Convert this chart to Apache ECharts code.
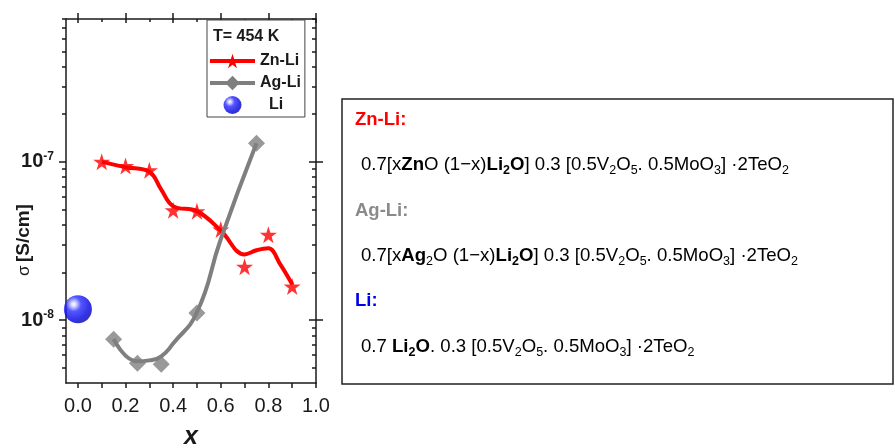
<!DOCTYPE html>
<html>
<head>
<meta charset="utf-8">
<script src="https://cdn.jsdelivr.net/npm/echarts@6/dist/echarts.min.js"></script>
<style>
  html, body { margin: 0; padding: 0; background: #ffffff; }
  #chart { width: 895px; height: 448px; }
</style>
</head>
<body>
<div id="chart"></div>
<script>
// Ionic conductivity at T = 454 K versus composition x
const xLabelValues = [0.0, 0.2, 0.4, 0.6, 0.8, 1.0];
const xTickValues = [0.0, 0.1, 0.2, 0.3, 0.4, 0.5, 0.6, 0.7, 0.8, 0.9, 1.0];
const xInnerMinor = [0.1, 0.3, 0.5, 0.7, 0.9];
const yMajorValues = [1e-8, 1e-7];
const yMinorValues = [5e-9, 6e-9, 7e-9, 8e-9, 9e-9,
  2e-8, 3e-8, 4e-8, 5e-8, 6e-8, 7e-8, 8e-8, 9e-8,
  2e-7, 3e-7, 4e-7, 5e-7, 6e-7, 7e-7, 8e-7];

// Zn-Li: measured points and the fitted curve
const znLiX = [0.1, 0.2, 0.3, 0.4, 0.5, 0.6, 0.7, 0.8, 0.9];
const znLiSigma = [1.0e-7, 9.4e-8, 8.85e-8, 4.94e-8, 4.88e-8, 3.73e-8, 2.17e-8, 3.46e-8, 1.63e-8];
const znLiFitX = [0.1, 0.2, 0.3, 0.35, 0.4, 0.5, 0.6, 0.7, 0.75, 0.8, 0.85, 0.9];
const znLiFit = [1.0e-7, 9.25e-8, 8.65e-8, 6.68e-8, 5.25e-8, 4.88e-8, 3.68e-8, 2.6e-8, 2.76e-8, 2.84e-8, 2.25e-8, 1.68e-8];

// Ag-Li: measured points and the fitted curve
const agLiX = [0.15, 0.25, 0.35, 0.5, 0.75];
const agLiSigma = [7.55e-9, 5.33e-9, 5.25e-9, 1.11e-8, 1.31e-7];
const agLiFitX = [0.15, 0.25, 0.3, 0.35, 0.4, 0.5, 0.6, 0.75];
const agLiFit = [7.6e-9, 5.48e-9, 5.56e-9, 5.9e-9, 7.1e-9, 1.12e-8, 3.24e-8, 1.31e-7];

// Li (x = 0)
const liX = [0.0];
const liSigma = [1.17e-8];

const FONT = '"Liberation Sans", Arial, Helvetica, sans-serif';
const INK = '#1a1a1a';
const RED = '#ff0000';
const GREY = '#7f7f7f';
const STAR = 'path://M50,0 L61.2,34.5 L97.6,34.5 L68.2,55.9 L79.4,90.5 L50,69.1 L20.6,90.5 L31.8,55.9 L2.4,34.5 L38.8,34.5 Z';

const pairs = (xs, ys) => xs.map((x, i) => [x, ys[i]]);

const Y_MIN = 4e-9, Y_MAX = 8e-7;
const X_MIN = -0.05, X_MAX = 1.0;
const LOG_MIN = Math.log10(Y_MIN), LOG_MAX = Math.log10(Y_MAX);
const yMinorExp = yMinorValues.map(Math.log10);
const yMajorExp = yMajorValues.map(Math.log10);

const tickLine = { color: INK, width: 1.5 };

// tick-only axes laid out in decades (log10 of sigma)
function decadeTickAxis(position, values, length, inside) {
  return {
    type: 'value', position: position, min: LOG_MIN, max: LOG_MAX,
    axisLine: { show: false, onZero: false },
    axisTick: { show: true, inside: inside, customValues: values, length: length, lineStyle: tickLine },
    axisLabel: { show: false },
    splitLine: { show: false }
  };
}
function xTickAxis(values, length, inside) {
  return {
    type: 'value', position: 'top', min: X_MIN, max: X_MAX,
    axisLine: { show: false, onZero: false },
    axisTick: { show: true, inside: inside, customValues: values, length: length, lineStyle: tickLine },
    axisLabel: { show: false },
    splitLine: { show: false }
  };
}

const supExp = v => '{b|10}{s|' + Math.round(Math.log10(v)) + '}';

const formulaRich = {
  n: { fontFamily: FONT, fontSize: 18.6, color: INK, lineHeight: 24 },
  b: { fontFamily: FONT, fontSize: 18.6, fontWeight: 'bold', color: INK, lineHeight: 24 },
  s: { fontFamily: FONT, fontSize: 12.5, color: INK, verticalAlign: 'bottom', lineHeight: 12 },
  bs: { fontFamily: FONT, fontSize: 12.5, fontWeight: 'bold', color: INK, verticalAlign: 'bottom', lineHeight: 12 }
};

const chart = echarts.init(document.getElementById('chart'), null, { renderer: 'canvas' });

chart.setOption({
  animation: false,
  backgroundColor: '#ffffff',
  grid: { left: 66, right: 579, top: 19, bottom: 65, containLabel: false, outerBoundsMode: 'none' },
  xAxis: [
    {
      type: 'value', position: 'bottom', min: X_MIN, max: X_MAX,
      axisLine: { show: true, onZero: false, lineStyle: tickLine },
      axisTick: { show: true, customValues: xTickValues, length: 5, lineStyle: tickLine },
      axisLabel: {
        show: true, customValues: xLabelValues, margin: 13,
        formatter: v => v.toFixed(1),
        fontFamily: FONT, fontSize: 20, color: INK
      },
      splitLine: { show: false },
      name: 'x', nameLocation: 'middle', nameGap: 42,
      nameTextStyle: { fontFamily: FONT, fontSize: 25, fontWeight: 'bold', fontStyle: 'italic', color: INK }
    },
    {
      type: 'value', position: 'top', min: X_MIN, max: X_MAX,
      axisLine: { show: true, onZero: false, lineStyle: tickLine },
      axisTick: { show: true, customValues: xLabelValues, length: 6, lineStyle: tickLine },
      axisLabel: { show: false },
      splitLine: { show: false }
    },
    xTickAxis(xLabelValues, 4, true),
    xTickAxis(xInnerMinor, 3, true)
  ],
  yAxis: [
    {
      type: 'log', logBase: 10, position: 'left', min: Y_MIN, max: Y_MAX,
      axisLine: { show: true, onZero: false, lineStyle: tickLine },
      axisTick: { show: false },
      axisLabel: {
        show: true, customValues: yMajorValues, margin: 12,
        formatter: supExp,
        rich: {
          b: { fontFamily: FONT, fontSize: 20, fontWeight: 'bold', color: INK },
          s: { fontFamily: FONT, fontSize: 12, fontWeight: 'bold', color: INK, verticalAlign: 'top', padding: [0, 0, 10, 0] }
        }
      },
      splitLine: { show: false },
      minorTick: { show: false },
      minorSplitLine: { show: false }
    },
    {
      type: 'log', logBase: 10, position: 'right', min: Y_MIN, max: Y_MAX,
      axisLine: { show: true, onZero: false, lineStyle: tickLine },
      axisTick: { show: false },
      axisLabel: { show: false },
      splitLine: { show: false }
    },
    decadeTickAxis('left', yMajorExp, 7, false),
    decadeTickAxis('left', yMinorExp, 4, false),
    decadeTickAxis('right', yMajorExp, 7, false),
    decadeTickAxis('right', yMajorExp, 7, true),
    decadeTickAxis('right', yMinorExp, 4, true)
  ],
  legend: {
    orient: 'vertical',
    left: 207, top: 20,
    padding: [32, 4, 3, 1],
    itemGap: 4, itemWidth: 45, itemHeight: 18,
    backgroundColor: '#ffffff',
    borderColor: '#444444', borderWidth: 1,
    lineStyle: { width: 4 },
    textStyle: { fontFamily: FONT, fontSize: 16, fontWeight: 'bold', color: INK, lineHeight: 18 },
    formatter: name => (name === 'Li' ? '  Li' : name),
    data: ['Zn-Li', 'Ag-Li', 'Li'],
    z: 20
  },
  series: [
    {
      name: 'Zn-Li', type: 'line', smooth: 0.4,
      data: pairs(znLiFitX, znLiFit),
      symbol: STAR, symbolSize: 18, showSymbol: false,
      lineStyle: { color: RED, width: 4 },
      itemStyle: { color: RED },
      z: 2
    },
    {
      name: 'Zn-Li', type: 'scatter',
      data: pairs(znLiX, znLiSigma),
      symbol: STAR, symbolSize: 17,
      itemStyle: { color: RED },
      z: 3
    },
    {
      name: 'Ag-Li', type: 'line', smooth: 0.5,
      data: pairs(agLiFitX, agLiFit),
      symbol: 'diamond', symbolSize: 17, showSymbol: false,
      lineStyle: { color: GREY, width: 4 },
      itemStyle: { color: GREY },
      z: 4
    },
    {
      name: 'Ag-Li', type: 'scatter',
      data: pairs(agLiX, agLiSigma),
      symbol: 'diamond', symbolSize: 17,
      itemStyle: { color: GREY },
      z: 4
    },
    {
      name: 'Li', type: 'scatter',
      data: pairs(liX, liSigma),
      symbol: 'circle', symbolSize: 28,
      itemStyle: {
        color: {
          type: 'radial', x: 0.35, y: 0.32, r: 0.75,
          colorStops: [
            { offset: 0, color: '#ffffff' },
            { offset: 0.12, color: '#c8c8ff' },
            { offset: 0.35, color: '#2a2aff' },
            { offset: 0.75, color: '#0000e0' },
            { offset: 1, color: '#0000a8' }
          ]
        }
      },
      z: 5
    }
  ],
  graphic: [
    {
      type: 'text', z: 100, left: 213, top: 29,
      style: { text: 'T= 454 K', fontFamily: FONT, fontSize: 16, fontWeight: 'bold', fill: INK }
    },
    {
      type: 'text', z: 100, x: 24, y: 240, rotation: Math.PI / 2,
      style: {
        text: '{g|σ} {t|[S/cm]}', align: 'center', verticalAlign: 'middle',
        rich: {
          g: { fontFamily: FONT, fontSize: 17, fill: INK, color: INK },
          t: { fontFamily: FONT, fontSize: 19, fontWeight: 'bold', fill: INK, color: INK }
        }
      }
    },
    {
      type: 'rect', z: 100,
      shape: { x: 342, y: 99, width: 551, height: 285 },
      style: { fill: '#ffffff', stroke: '#222222', lineWidth: 1.5 }
    },
    {
      type: 'text', z: 101, x: 355, y: 120,
      style: { text: 'Zn-Li:', fontFamily: FONT, fontSize: 18.5, fontWeight: 'bold', fill: '#ff0000', verticalAlign: 'middle' }
    },
    {
      type: 'text', z: 101, x: 361, y: 165,
      style: {
        verticalAlign: 'middle', rich: formulaRich,
        text: '{n|0.7[x}{b|Zn}{n|O (1−x)}{b|Li}{bs|2}{b|O}{n|] 0.3 [0.5V}{s|2}{n|O}{s|5}{n|. 0.5MoO}{s|3}{n|] ·2TeO}{s|2}'
      }
    },
    {
      type: 'text', z: 101, x: 355, y: 211,
      style: { text: 'Ag-Li:', fontFamily: FONT, fontSize: 18.5, fontWeight: 'bold', fill: '#8a8a8a', verticalAlign: 'middle' }
    },
    {
      type: 'text', z: 101, x: 361, y: 256,
      style: {
        verticalAlign: 'middle', rich: formulaRich,
        text: '{n|0.7[x}{b|Ag}{s|2}{n|O (1−x)}{b|Li}{bs|2}{b|O}{n|] 0.3 [0.5V}{s|2}{n|O}{s|5}{n|. 0.5MoO}{s|3}{n|] ·2TeO}{s|2}'
      }
    },
    {
      type: 'text', z: 101, x: 355, y: 301,
      style: { text: 'Li:', fontFamily: FONT, fontSize: 18.5, fontWeight: 'bold', fill: '#0000ee', verticalAlign: 'middle' }
    },
    {
      type: 'text', z: 101, x: 361, y: 347,
      style: {
        verticalAlign: 'middle', rich: formulaRich,
        text: '{n|0.7 }{b|Li}{bs|2}{b|O}{n|. 0.3 [0.5V}{s|2}{n|O}{s|5}{n|. 0.5MoO}{s|3}{n|] ·2TeO}{s|2}'
      }
    }
  ]
});
</script>
</body>
</html>
